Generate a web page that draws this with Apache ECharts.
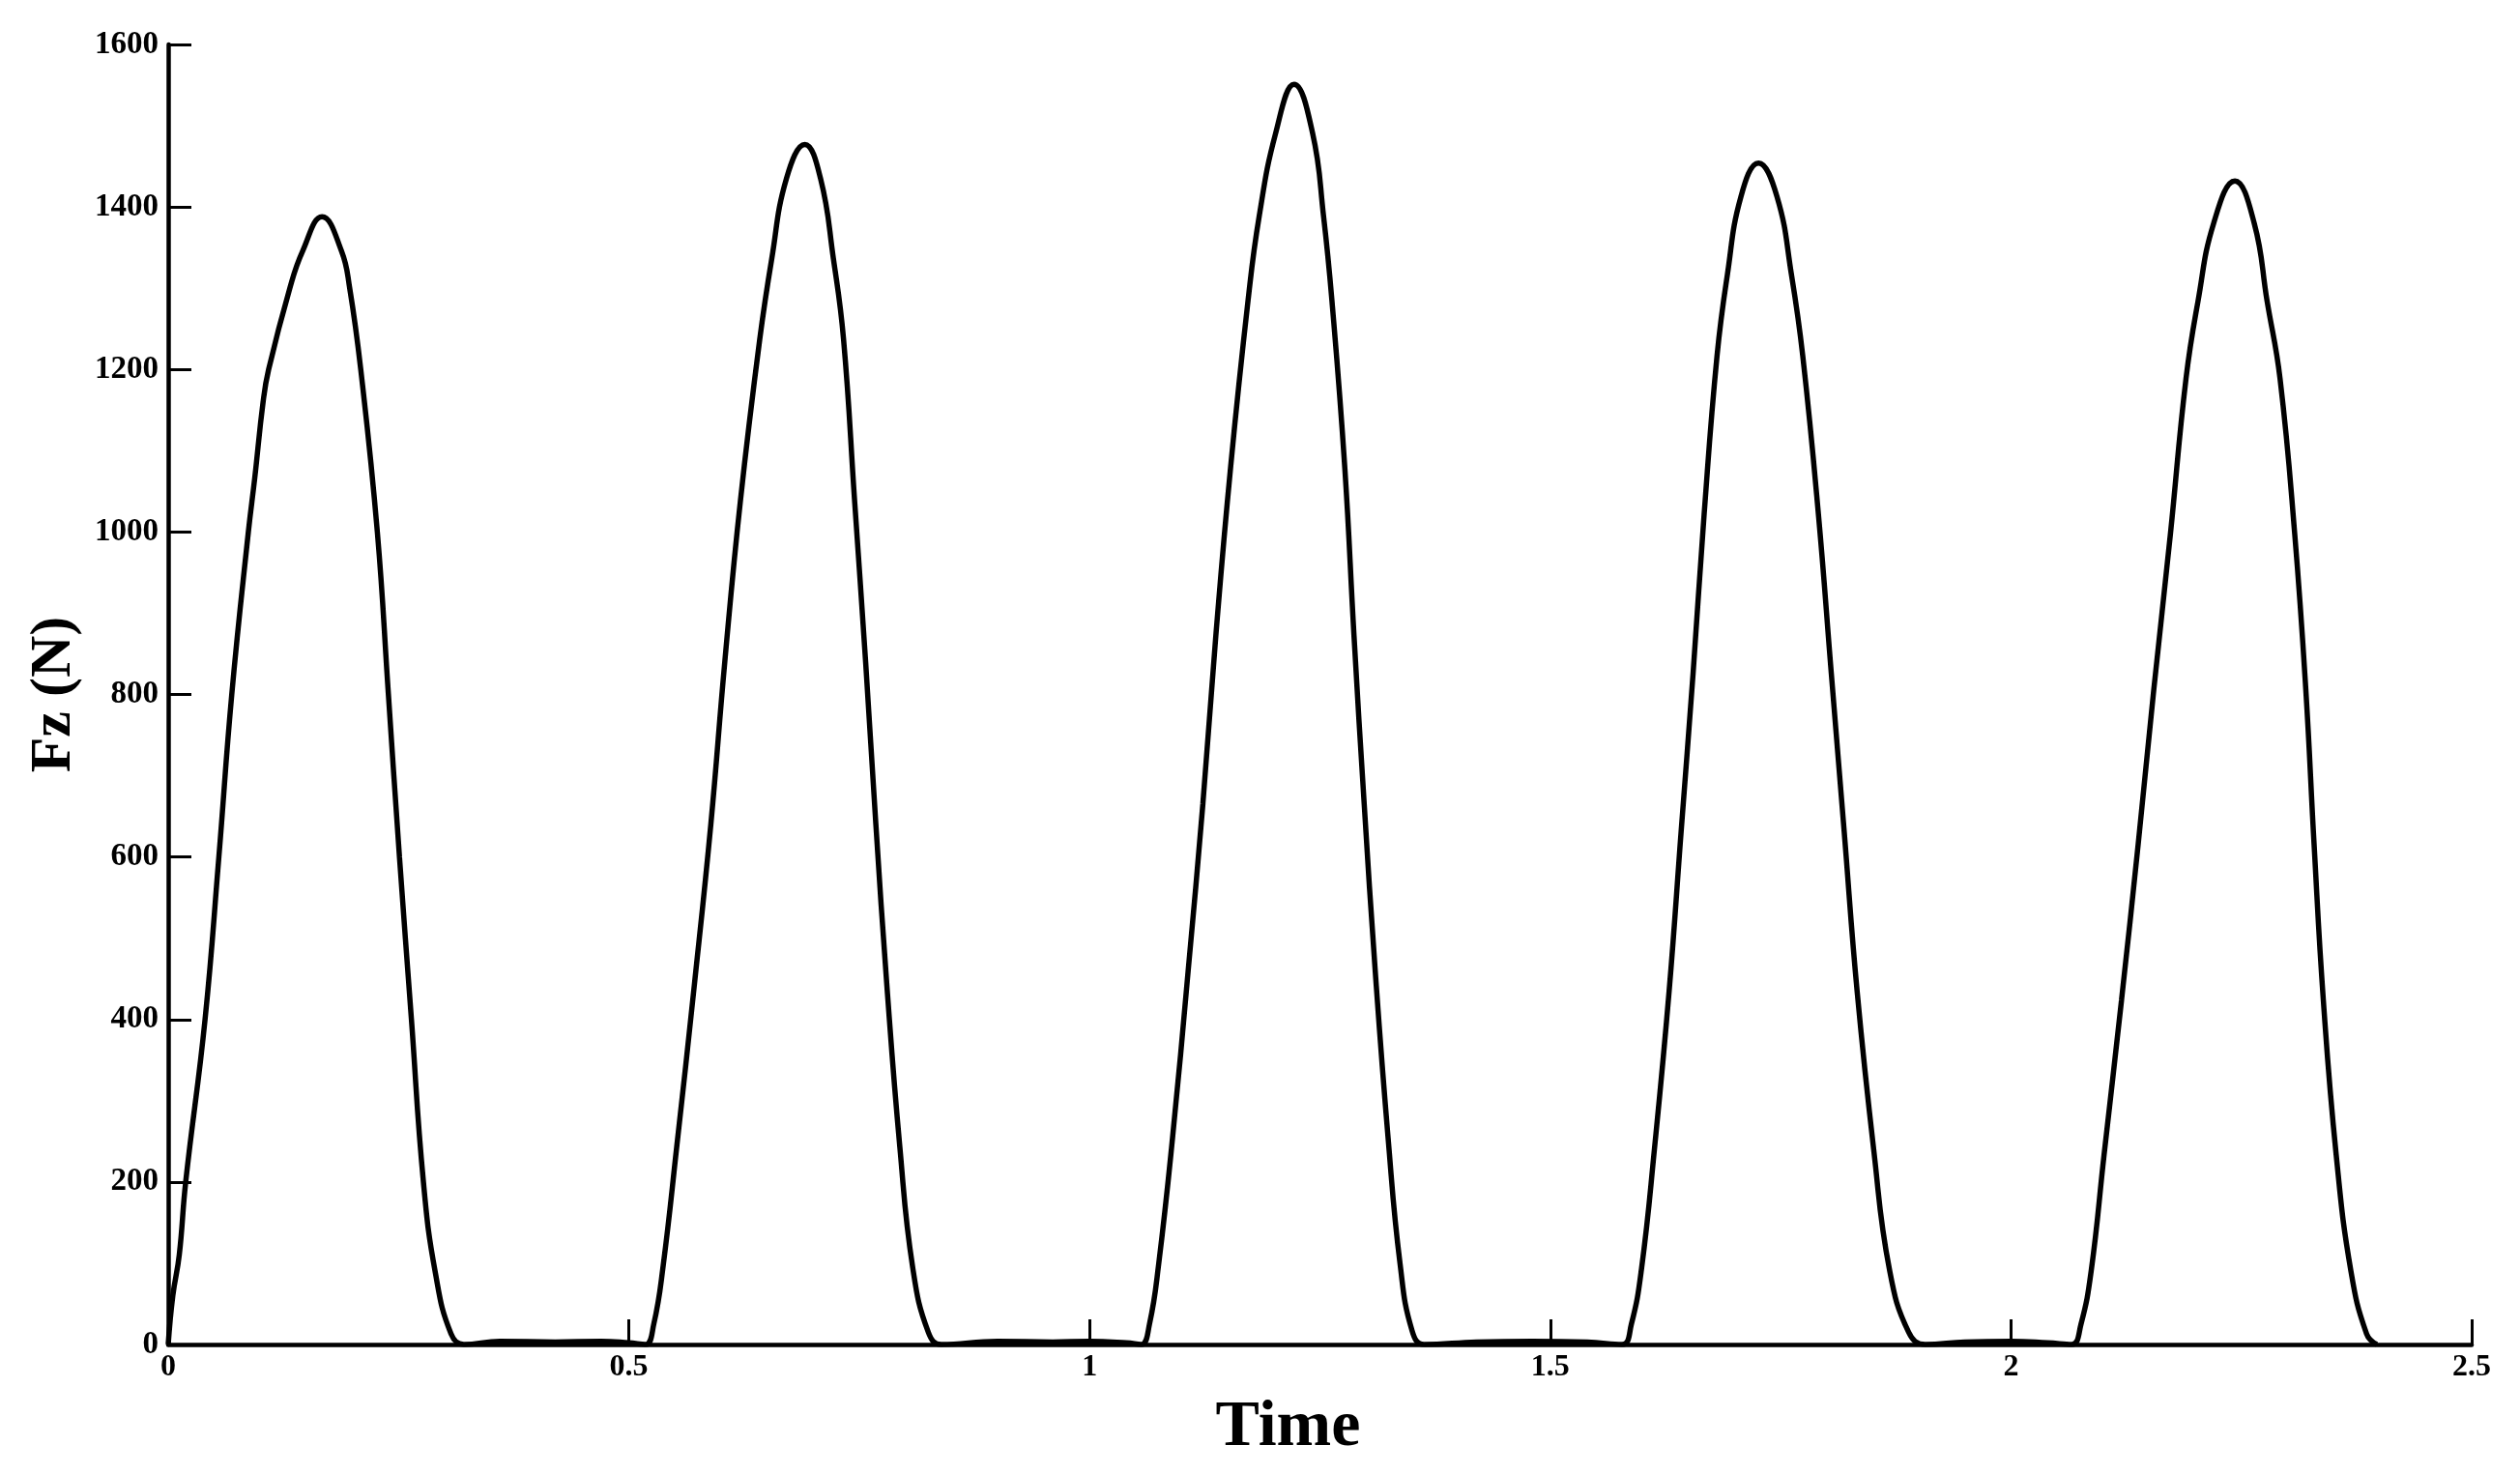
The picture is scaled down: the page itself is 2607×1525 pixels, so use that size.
<!DOCTYPE html>
<html>
<head>
<meta charset="utf-8">
<title>Fz vs Time</title>
<script src="https://cdn.jsdelivr.net/npm/echarts@6/dist/echarts.min.js"></script>
<style>
  html, body { margin: 0; padding: 0; background: #fff; }
  #chart { width: 2607px; height: 1525px; }
</style>
</head>
<body>
<div id="chart"></div>
<script>
// values, one pair of arrays per stance
const time1 = [0, 0.005, 0.012, 0.019, 0.040, 0.055, 0.069, 0.087, 0.094, 0.103, 0.109, 0.132, 0.146, 0.167, 0.188, 0.197, 0.209, 0.227, 0.239, 0.251, 0.264, 0.277, 0.290, 0.307, 0.321];
const force1 = [0, 60, 110, 200, 400, 600, 800, 1000, 1067, 1160, 1200, 1300, 1346, 1388, 1346, 1300, 1200, 1000, 800, 600, 400, 200, 88, 13, 0];

const time2 = [0.36, 0.42, 0.47, 0.50, 0.518, 0.527, 0.537, 0.552, 0.571, 0.589, 0.604, 0.621, 0.642, 0.655, 0.671, 0.691, 0.708, 0.722, 0.733, 0.745, 0.757, 0.768, 0.780, 0.794, 0.808, 0.825, 0.839];
const force2 = [4, 3, 4, 2, 0, 25, 95, 244, 442, 641, 839, 1038, 1237, 1336, 1435, 1477, 1435, 1336, 1237, 1038, 839, 641, 442, 244, 95, 15, 0];

const time3 = [0.90, 0.96, 1.00, 1.04, 1.056, 1.065, 1.075, 1.090, 1.107, 1.123, 1.137, 1.153, 1.172, 1.184, 1.202, 1.222, 1.242, 1.254, 1.263, 1.277, 1.287, 1.298, 1.310, 1.324, 1.337, 1.350, 1.363];
const force3 = [4, 3, 4, 2, 0, 25, 99, 254, 460, 666, 872, 1079, 1285, 1388, 1491, 1551, 1491, 1388, 1285, 1079, 872, 666, 460, 254, 99, 17, 0];

const time4 = [1.42, 1.48, 1.54, 1.578, 1.588, 1.599, 1.613, 1.629, 1.642, 1.655, 1.667, 1.681, 1.692, 1.707, 1.726, 1.746, 1.762, 1.774, 1.791, 1.805, 1.819, 1.833, 1.851, 1.868, 1.889, 1.907];
const force4 = [3, 4, 3, 0, 25, 93, 240, 435, 631, 826, 1022, 1217, 1315, 1413, 1454, 1413, 1315, 1217, 1022, 826, 631, 435, 240, 93, 15, 0];

const time5 = [1.95, 2.00, 2.04, 2.066, 2.076, 2.087, 2.101, 2.120, 2.138, 2.155, 2.173, 2.190, 2.203, 2.220, 2.243, 2.264, 2.278, 2.292, 2.308, 2.320, 2.329, 2.339, 2.353, 2.369, 2.386, 2.397];
const force5 = [3, 4, 2, 0, 25, 90, 233, 424, 615, 806, 997, 1189, 1284, 1380, 1432, 1380, 1284, 1189, 997, 806, 615, 424, 233, 90, 13, 0];

const xTicks = [0, 0.5, 1, 1.5, 2, 2.5];
const yTicks = [0, 200, 400, 600, 800, 1000, 1200, 1400, 1600];

const allTime = [].concat(time1, time2, time3, time4, time5);
const allForce = [].concat(force1, force2, force3, force4, force5);
let points = [];
for (let i = 0; i < allTime.length; i++) {
    points.push([allTime[i], allForce[i]]);
}

const serif = "'Liberation Serif', 'DejaVu Serif', serif";

const chart = echarts.init(document.getElementById("chart"));
chart.setOption({
    animation: false,
    backgroundColor: "#fff",
    grid: { left: 174, right: 50, top: 46, bottom: 134 },
    xAxis: {
        type: "value",
        min: xTicks[0],
        max: xTicks[xTicks.length - 1],
        interval: 0.5,
        name: "Time",
        nameLocation: "middle",
        nameGap: 52,
        nameTextStyle: {
            fontFamily: serif, fontWeight: "bold", fontSize: 68, color: "#000",
            padding: [0, 66, 0, 0]
        },
        axisLine: { show: true, lineStyle: { color: "#000", width: 4.5 } },
        axisTick: { show: true, inside: true, length: 26, lineStyle: { color: "#000", width: 3 } },
        axisLabel: {
            fontFamily: serif, fontWeight: "bold", fontSize: 32, color: "#000", margin: 8,
            formatter: function (v) { return String(v); }
        },
        splitLine: { show: false }
    },
    yAxis: {
        type: "value",
        min: yTicks[0],
        max: yTicks[yTicks.length - 1],
        interval: 200,
        name: "Fz (N)",
        nameLocation: "middle",
        nameGap: 88,
        nameTextStyle: { fontFamily: serif, fontWeight: "bold", fontSize: 60, color: "#000" },
        axisLine: { show: true, lineStyle: { color: "#000", width: 4.5 } },
        axisTick: { show: true, inside: true, length: 24, lineStyle: { color: "#000", width: 3 } },
        axisLabel: {
            fontFamily: serif, fontWeight: "bold", fontSize: 33, color: "#000", margin: 10,
            formatter: function (v) { return String(v); }
        },
        splitLine: { show: false }
    },
    series: [
        {
            type: "line",
            data: points,
            smooth: 0.45,
            showSymbol: false,
            lineStyle: { color: "#000", width: 5.5 },
            itemStyle: { color: "#000" }
        }
    ]
});
</script>
</body>
</html>
